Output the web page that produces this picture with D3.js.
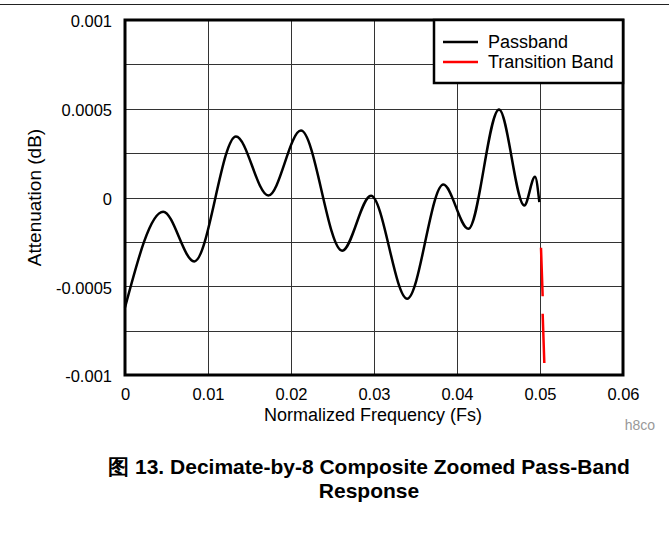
<!DOCTYPE html>
<html>
<head>
<meta charset="utf-8">
<script src="https://cdn.jsdelivr.net/npm/d3@7"></script>
<style>
  body { margin: 0; background: #fff; }
  text { font-family: "Liberation Sans", Arial, sans-serif; }
</style>
</head>
<body>
<script>
// passband ripple (frequency in Fs, attenuation in dB)
const passFreq = [0, 0.0046, 0.00835, 0.01337, 0.01727, 0.0212, 0.02616, 0.02964, 0.034, 0.03835, 0.04137, 0.04506, 0.04811, 0.0494, 0.04992];
const passAtt = [-0.00062, -0.00008, -0.00036, 0.000344, 0.000011, 0.000377, -0.0003, 0.00001, -0.00057, 0.000073, -0.000176, 0.000496, -0.000045, 0.000117, -0.000026];

// transition band start, two visible pieces
const transFreq = [0.05012, 0.05032, null, 0.05032, 0.05052];
const transAtt = [-0.000283, -0.000556, null, -0.000655, -0.000932];

const xTicks = [0, 0.01, 0.02, 0.03, 0.04, 0.05, 0.06];
const yTicks = [-0.001, -0.0005, 0, 0.0005, 0.001];
const yGrid = [-0.00075, -0.0005, -0.00025, 0, 0.00025, 0.0005, 0.00075];
const legendNames = ["Passband", "Transition Band"];
const legendColors = ["#000", "#f00"];

const W = 669, H = 550;
const svg = d3.select("body").append("svg").attr("width", W).attr("height", H);

// rule across the top of the page
svg.append("line")
  .attr("x1", 0).attr("x2", W).attr("y1", 4.5).attr("y2", 4.5)
  .attr("stroke", "#222").attr("stroke-width", 1);

const x = d3.scaleLinear().domain([0, 0.06]).range([125, 623]);
const y = d3.scaleLinear().domain([-0.001, 0.001]).range([375, 20]);

const fmt = d => d === 0 ? "0" : String(+d.toFixed(4));

// grid
svg.append("g").selectAll("line").data(xTicks.slice(1, -1)).join("line")
  .attr("x1", d => Math.round(x(d)) + 0.5).attr("x2", d => Math.round(x(d)) + 0.5)
  .attr("y1", y(0.001)).attr("y2", y(-0.001))
  .attr("stroke", "#333").attr("stroke-width", 1);
svg.append("g").selectAll("line").data(yGrid).join("line")
  .attr("x1", x(0)).attr("x2", x(0.06))
  .attr("y1", d => Math.round(y(d)) + 0.5).attr("y2", d => Math.round(y(d)) + 0.5)
  .attr("stroke", "#333").attr("stroke-width", 1);

// axes (tick labels only, the frame is drawn separately)
const xAxis = svg.append("g").attr("transform", `translate(0,${y(-0.001)})`)
  .call(d3.axisBottom(x).tickValues(xTicks).tickFormat(fmt).tickSize(0).tickPadding(13));
const yAxis = svg.append("g").attr("transform", `translate(${x(0)},0)`)
  .call(d3.axisLeft(y).tickValues(yTicks).tickFormat(fmt).tickSize(0).tickPadding(13));
[xAxis, yAxis].forEach(a => {
  a.select(".domain").remove();
  a.selectAll("text").attr("font-size", 16.5).attr("fill", "#000")
    .attr("font-family", "Liberation Sans, Arial, sans-serif");
});
yAxis.selectAll("text").attr("dy", "0.42em");

// curves
const line = d3.line()
  .defined((d, i) => d[0] !== null)
  .x(d => x(d[0])).y(d => y(d[1]))
  .curve(d3.curveMonotoneX);

svg.append("path")
  .datum(passFreq.map((f, i) => [f, passAtt[i]]))
  .attr("fill", "none").attr("stroke", "#000").attr("stroke-width", 2.5)
  .attr("d", line);

svg.append("path")
  .datum(transFreq.map((f, i) => [f, transAtt[i]]))
  .attr("fill", "none").attr("stroke", "#f00").attr("stroke-width", 2.5)
  .attr("d", line.curve(d3.curveLinear));

// frame
svg.append("rect")
  .attr("x", x(0)).attr("y", y(0.001))
  .attr("width", x(0.06) - x(0)).attr("height", y(-0.001) - y(0.001))
  .attr("fill", "none").attr("stroke", "#000").attr("stroke-width", 3);

// legend
const lg = svg.append("g");
lg.append("rect")
  .attr("x", 434).attr("y", y(0.001)).attr("width", x(0.06) - 434).attr("height", 63)
  .attr("fill", "#fff").attr("stroke", "#000").attr("stroke-width", 2.5);
legendNames.forEach((name, i) => {
  const ly = 42 + i * 20;
  lg.append("line").attr("x1", 443).attr("x2", 478).attr("y1", ly).attr("y2", ly)
    .attr("stroke", legendColors[i]).attr("stroke-width", 2.5);
  lg.append("text").attr("x", 488).attr("y", ly + 5.5)
    .attr("font-size", 18).text(name);
});

// axis titles
svg.append("text").attr("x", 373).attr("y", 421)
  .attr("text-anchor", "middle").attr("font-size", 18)
  .text("Normalized Frequency (Fs)");
svg.append("text")
  .attr("transform", `translate(41,${(y(0.001) + y(-0.001)) / 2}) rotate(-90)`)
  .attr("text-anchor", "middle").attr("font-size", 19)
  .text("Attenuation (dB)");

svg.append("text").attr("x", 655).attr("y", 430)
  .attr("text-anchor", "end").attr("font-size", 14).attr("fill", "#999")
  .text("h8co");

// caption
const cap = svg.append("text").attr("text-anchor", "middle")
  .attr("font-weight", "bold").attr("font-size", 21)
  .attr("font-family", "Liberation Sans, 'Noto Sans CJK SC', sans-serif");
cap.append("tspan").attr("x", 369).attr("y", 474)
  .text("图 13. Decimate-by-8 Composite Zoomed Pass-Band");
cap.append("tspan").attr("x", 369).attr("y", 498).text("Response");
</script>
</body>
</html>
